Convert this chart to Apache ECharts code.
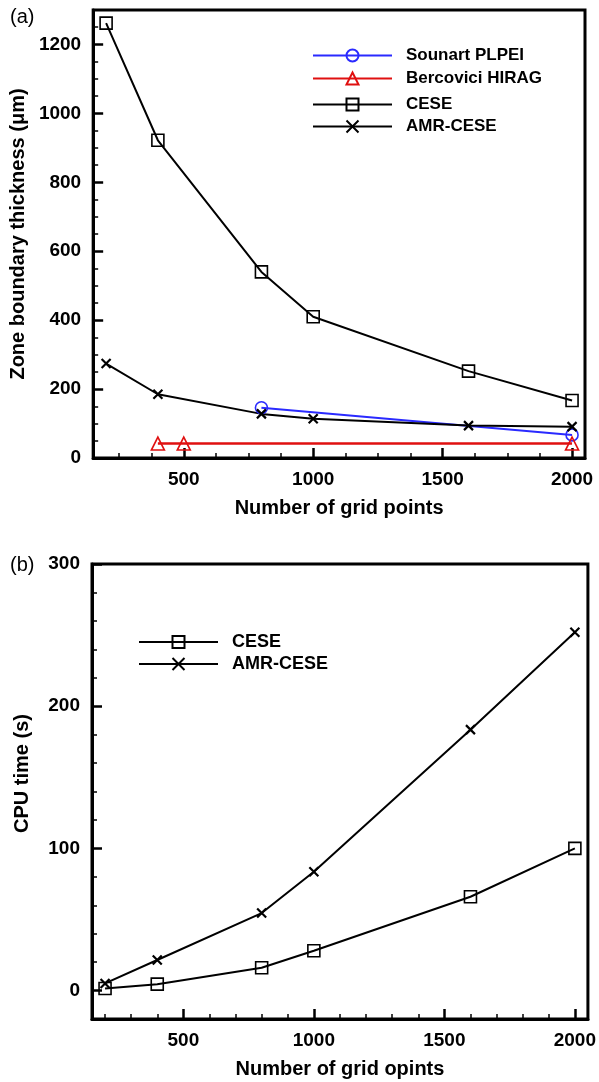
<!DOCTYPE html>
<html>
<head>
<meta charset="utf-8">
<script src="https://cdn.jsdelivr.net/npm/echarts@6/dist/echarts.min.js"></script>
<style>
  html, body { margin: 0; padding: 0; background: #fff; }
  #chart { width: 599px; height: 1082px; }
</style>
</head>
<body>
<div id="chart"></div>
<script>
// ---- Panel (a): zone boundary thickness vs. grid points ----
const gridPtsA = [200, 400, 800, 1000, 1600, 2000];
const ceseThickness = [1262, 922, 540, 410, 252, 167];
const amrThickness = [274, 185, 128, 114, 94, 91];
const sounartX = [800, 2000];
const sounartThickness = [146, 67];
const bercoviciX = [400, 500, 2000];
const bercoviciThickness = [42, 42, 42];

// ---- Panel (b): CPU time vs. grid points ----
const gridPtsB = [200, 400, 800, 1000, 1600, 2000];
const ceseCpu = [1.5, 4.5, 16, 28, 66, 100];
const amrCpu = [5, 21.5, 54.5, 83.5, 183.5, 252];

// ---- tick positions ----
const xMajorTicks = [500, 1000, 1500, 2000];
const xMinorTicksA = [250, 375, 625, 750, 875, 1125, 1250, 1375, 1625, 1750, 1875];
const xMinorTicksB = [200, 300, 400, 600, 700, 800, 900, 1100, 1200, 1300, 1400, 1600, 1700, 1800, 1900];
const yMajorTicksA = [0, 200, 400, 600, 800, 1000, 1200];
const yMinorTicksA = [50, 100, 150, 250, 300, 350, 450, 500, 550, 650, 700, 750, 850, 900, 950, 1050, 1100, 1150, 1250];
const yMajorTicksB = [0, 100, 200, 300];
const yMinorTicksB = [20, 40, 60, 80, 120, 140, 160, 180, 220, 240, 260, 280];

const FONT = '"Liberation Sans", Arial, sans-serif';
const pair = (xs, ys) => xs.map((x, i) => [x, ys[i]]);

const CROSS = 'path://M0,0L10,10M10,0L0,10';

function majorAxis(gridIndex, position, min, max, ticks, extra) {
  return Object.assign({
    gridIndex, position, type: 'value', min, max,
    axisLine: { show: true, onZero: false, lineStyle: { color: '#000', width: 3 } },
    axisTick: { show: true, inside: true, length: 10, customValues: ticks, lineStyle: { color: '#000', width: 2.5 } },
    axisLabel: { show: true, customValues: ticks, formatter: v => String(v), color: '#000', fontSize: 19, fontWeight: 'bold', fontFamily: FONT, margin: 12 },
    splitLine: { show: false },
    nameTextStyle: { color: '#000', fontSize: 20, fontWeight: 'bold', fontFamily: FONT }
  }, extra || {});
}
function minorAxis(gridIndex, position, min, max, ticks) {
  return {
    gridIndex, position, type: 'value', min, max,
    axisLine: { show: false, onZero: false },
    axisTick: { show: true, inside: true, length: 5, customValues: ticks, lineStyle: { color: '#000', width: 1.5 } },
    axisLabel: { show: false },
    splitLine: { show: false }
  };
}

function lineSeries(name, data, xi, yi, color, symbol, size, lw, bw) {
  return {
    name, type: 'line', data, xAxisIndex: xi, yAxisIndex: yi,
    symbol, symbolSize: size, showAllSymbol: true,
    lineStyle: { color, width: lw },
    itemStyle: { color: 'rgba(0,0,0,0)', borderColor: color, borderWidth: bw },
    emphasis: { disabled: true },
    animation: false, z: 3
  };
}

function legendItem(name, left, top, fontSize) {
  return {
    data: [name], left, top, orient: 'vertical', padding: 0,
    itemWidth: 79, itemHeight: 15,
    textStyle: { color: '#000', fontSize, fontWeight: 'bold', fontFamily: FONT, padding: [0, 0, 0, 9] },
    selectedMode: false
  };
}

const chart = echarts.init(document.getElementById('chart'), null, { renderer: 'canvas' });
chart.setOption({
  backgroundColor: '#fff',
  animation: false,
  title: [
    { text: '(a)', left: 10, top: 7, padding: 0, textStyle: { color: '#000', fontSize: 20, fontWeight: 'normal', fontFamily: FONT } },
    { text: '(b)', left: 10, top: 555, padding: 0, textStyle: { color: '#000', fontSize: 20, fontWeight: 'normal', fontFamily: FONT } }
  ],
  grid: [
    { left: 92, top: 10, right: 14, bottom: 624, show: true, borderColor: '#000', borderWidth: 3, backgroundColor: 'transparent' },
    { left: 92, top: 564, right: 7, bottom: 63, show: true, borderColor: '#000', borderWidth: 3, backgroundColor: 'transparent' }
  ],
  xAxis: [
    majorAxis(0, 'bottom', 150, 2050, xMajorTicks, { name: 'Number of grid points', nameLocation: 'middle', nameGap: 40 }),
    minorAxis(0, 'bottom', 150, 2050, xMinorTicksA),
    majorAxis(1, 'bottom', 150, 2050, xMajorTicks, { name: 'Number of grid opints', nameLocation: 'middle', nameGap: 40 }),
    minorAxis(1, 'bottom', 150, 2050, xMinorTicksB)
  ],
  yAxis: [
    majorAxis(0, 'left', 0, 1300, yMajorTicksA, { name: 'Zone boundary thickness (\u03bcm)', nameLocation: 'middle', nameGap: 60 }),
    minorAxis(0, 'left', 0, 1300, yMinorTicksA),
    majorAxis(1, 'left', -20, 300, yMajorTicksB, {
      name: 'CPU time (s)', nameLocation: 'middle', nameGap: 60,
      nameTextStyle: { color: '#000', fontSize: 20, fontWeight: 'bold', fontFamily: FONT, padding: [0, 0, 0, 36] }
    }),
    minorAxis(1, 'left', -20, 300, yMinorTicksB)
  ],
  legend: [
    legendItem('Sounart PLPEI', 312, 47, 17),
    legendItem('Bercovici HIRAG', 312, 70, 17),
    legendItem('CESE', 312, 96, 17),
    legendItem('AMR-CESE', 312, 118, 17),
    legendItem('CESE ', 138, 633, 18),
    legendItem('AMR-CESE ', 138, 655, 18)
  ],
  series: [
    lineSeries('Sounart PLPEI', pair(sounartX, sounartThickness), 0, 0, '#2a2aff', 'circle', 12, 2, 1.6),
    lineSeries('Bercovici HIRAG', pair(bercoviciX, bercoviciThickness), 0, 0, '#e01010', 'triangle', 13, 2.5, 1.6),
    lineSeries('CESE', pair(gridPtsA, ceseThickness), 0, 0, '#000', 'rect', 12, 2, 1.6),
    lineSeries('AMR-CESE', pair(gridPtsA, amrThickness), 0, 0, '#000', CROSS, 9, 2, 2.2),
    lineSeries('CESE ', pair(gridPtsB, ceseCpu), 2, 2, '#000', 'rect', 12, 2, 1.6),
    lineSeries('AMR-CESE ', pair(gridPtsB, amrCpu), 2, 2, '#000', CROSS, 9, 2, 2.2)
  ]
});
</script>
</body>
</html>
